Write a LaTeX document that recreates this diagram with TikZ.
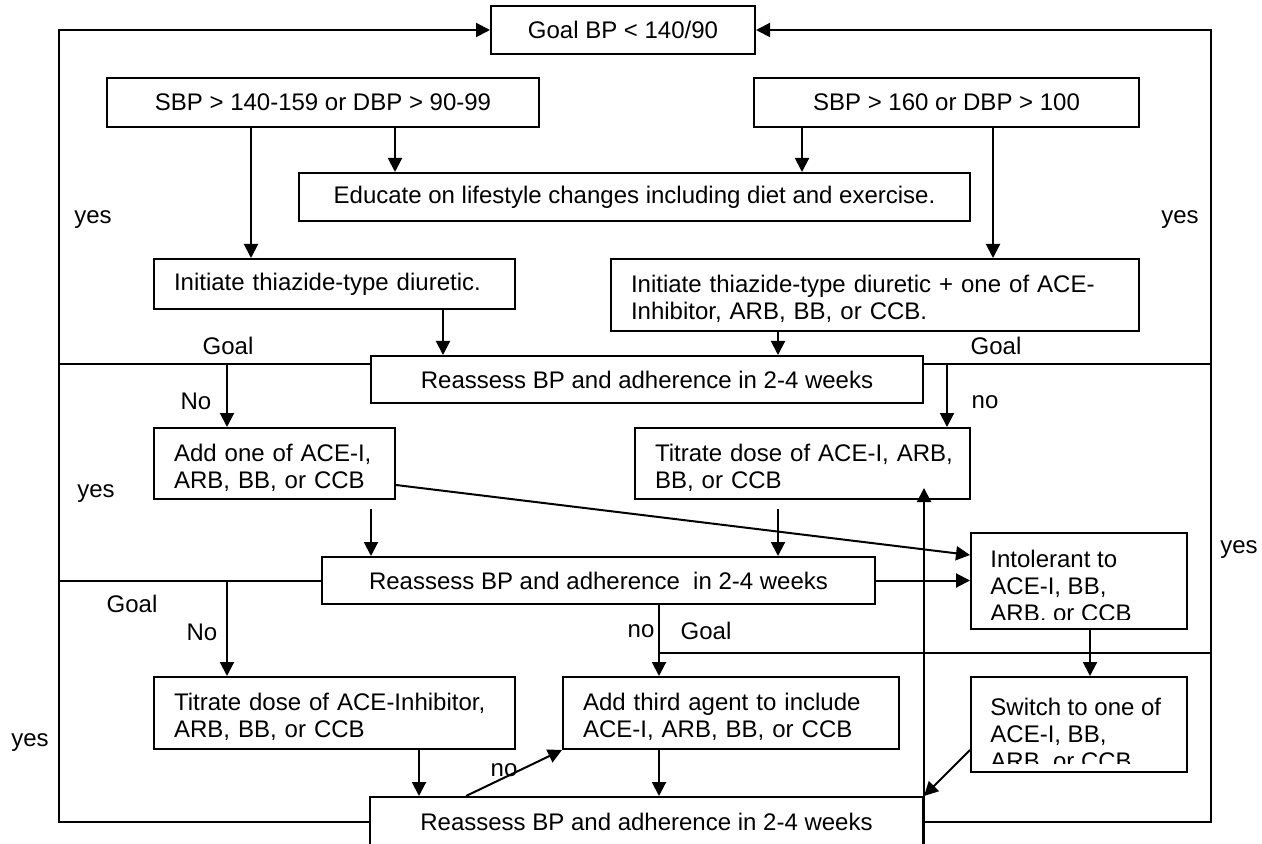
\documentclass[tikz,border=0pt]{standalone}
\usepackage{fontspec}
\setmainfont{Liberation Sans}
\usepackage{tikz}
\usetikzlibrary{arrows.meta,positioning}

\begin{document}
\begin{tikzpicture}[
    x=0.5pt, y=-0.5pt,
    font=\fontsize{12}{13.5}\selectfont,
    box/.style={draw, line width=1pt, inner xsep=10pt, inner ysep=0pt, align=center},
    lbox/.style={box, align=left, text width=#1},
    twoline/.style={execute at begin node={\rule{0pt}{12.8pt}}},
    note/.style={inner sep=0pt, align=left},
    lbl/.style={inner sep=0pt},
    link/.style={line width=1pt},
    arr/.style={-{Triangle[length=7pt,width=7pt]}, line width=1pt}
]
\useasboundingbox (0,0) rectangle (1262,844);
\clip (0,0) rectangle (1262,844);

\node[box, minimum width=132pt, minimum height=24pt] (goal) at (623,30) {Goal BP < 140/90};
\node[box, minimum width=216pt, minimum height=24.5pt] (sbpA) at (323,102.5) {SBP > 140-159 or DBP > 90-99};
\node[box, minimum width=192.5pt, minimum height=24.5pt] (sbpB) at (946.5,102.5) {SBP > 160 or DBP > 100};
\node[box, minimum width=335.5pt, minimum height=24pt] (educate) at (634.5,197) {Educate on lifestyle changes including diet and exercise.};
\node[lbox=160.5pt, minimum height=25pt] (thiazide) at (334.5,284) {Initiate thiazide-type diuretic.};
\node[lbox=244pt, twoline, minimum height=36pt] (combo) at (875,295) {Initiate thiazide-type diuretic + one of ACE-\\Inhibitor, ARB, BB, or CCB.};
\node[box, minimum width=276pt, minimum height=23.5pt] (reassessA) at (647,379.5) {Reassess BP and adherence in 2-4 weeks};
\node[lbox=100.5pt, twoline, minimum height=35.5pt] (addOne) at (274.5,463.5) {Add one of ACE-I,\\ARB, BB, or CCB};
\node[lbox=147.5pt, twoline, minimum height=35.5pt] (titrateA) at (802.5,463.5) {\mbox{Titrate dose of ACE-I, ARB,}\\BB, or CCB};
\node[box, minimum width=276.5pt, minimum height=23.5pt] (reassessB) at (598.5,580.5) {Reassess BP and adherence~ in 2-4 weeks};
\node[box, minimum width=108pt, minimum height=48pt] (intolerant) at (1079,581) {};
\node[lbox=160.5pt, twoline, minimum height=36pt] (titrateB) at (334.5,713) {Titrate dose of ACE-Inhibitor,\\ARB, BB, or CCB};
\node[lbox=148pt, twoline, minimum height=36pt] (third) at (731,713) {Add third agent to include\\ACE-I, ARB, BB, or CCB};
\node[box, minimum width=108pt, minimum height=47.5pt] (switch) at (1079,724.5) {};
\node[box, minimum width=276.5pt, minimum height=24.5pt] (reassessC) at (646.5,821.5) {Reassess BP and adherence in 2-4 weeks};

\begin{scope}
\clip (intolerant.north west) rectangle ([yshift=5.5pt]intolerant.south east);
\node[note, anchor=base west] (intolerantText) at (990,621) {Intolerant to\\ACE-I, BB,\\ARB, or CCB};
\end{scope}
\begin{scope}
\clip (switch.north west) rectangle ([yshift=5pt]switch.south east);
\node[note, anchor=base west] (switchText) at (990,769) {Switch to one of\\ACE-I, BB,\\ARB, or CCB};
\end{scope}

\coordinate (L) at (59,0);
\coordinate (R) at (1211,0);
\coordinate (xA) at (251,0);
\coordinate (xB) at (395,0);
\coordinate (xC) at (802,0);
\coordinate (xD) at (993,0);
\coordinate (xE) at (443,0);
\coordinate (xF) at (778,0);
\coordinate (xG) at (371,0);
\coordinate (xH) at (419,0);
\coordinate (xI) at (1090,0);
\coordinate (xJ) at (227,0);
\coordinate (xK) at (947,0);
\coordinate (gA) at ([yshift=-4.5pt]reassessA.north west);
\coordinate (gB) at ([yshift=-4.5pt]reassessA.north east);
\coordinate (gD) at (659,653);

\draw[arr] (reassessC.west) -- (reassessC.west -| L) |- (goal.west);
\draw[arr] (reassessC.east) -- (reassessC.east -| R) |- (goal.east);
\draw[arr] (xA |- sbpA.south) -- (xA |- thiazide.north);
\draw[arr] (xB |- sbpA.south) -- (xB |- educate.north);
\draw[arr] (xC |- sbpB.south) -- (xC |- educate.north);
\draw[arr] (xD |- sbpB.south) -- (xD |- combo.north);
\draw[arr] (xE |- thiazide.south) -- (xE |- reassessA.north);
\draw[arr] (xF |- combo.south) -- (xF |- reassessA.north);
\draw[link] (gA) -- (gA -| L);
\draw[link] (gB) -- (gB -| R);
\draw[arr] (xJ |- gA) -- (xJ |- addOne.north);
\draw[arr] (xK |- gB) -- (xK |- titrateA.north);
\draw[arr, shorten <=4.5pt] (xG |- addOne.south) -- (xG |- reassessB.north);
\draw[arr, shorten <=4.5pt] (xF |- titrateA.south) -- (xF |- reassessB.north);
\draw[arr] ([yshift=-10.75pt]addOne.east) -- ([yshift=13pt]intolerant.west);
\draw[arr] (reassessB.east) -- (reassessB.east -| intolerant.west);
\draw[link] (reassessB.west) -- (reassessB.west -| L);
\draw[arr] (xJ |- reassessB.west) -- (xJ |- titrateB.north);
\draw[arr] (gD |- reassessB.south) -- (gD |- third.north);
\draw[link] (gD) -- (gD -| R);
\draw[arr] (xI |- intolerant.south) -- (xI |- switch.north);
\draw[arr] (xH |- titrateB.south) -- (xH |- reassessC.north);
\draw[arr] (gD |- third.south) -- (gD |- reassessC.north);
\draw[arr] ([yshift=-12.75pt]switch.west) -- (reassessC.north east);
\draw[arr, shorten >=-6pt] (reassessC.south east) -- (reassessC.south east |- titrateA.south);
\draw[arr] ([xshift=48.5pt]reassessC.north west) -- (third.south west);

\node[lbl] (yesA) at (93,220) {yes};
\node[lbl] (yesB) at (1180,220) {yes};
\node[lbl] (goalA) at (228,346) {Goal};
\node[lbl] (goalB) at (996,346) {Goal};
\node[lbl] (noA) at (196,401) {No};
\node[lbl] (noB) at (985,402) {no};
\node[lbl] (yesC) at (96,494) {yes};
\node[lbl] (yesD) at (1239,550) {yes};
\node[lbl] (goalC) at (132,604) {Goal};
\node[lbl] (noC) at (202,632) {No};
\node[lbl] (noD) at (641,631) {no};
\node[lbl] (goalD) at (706,631) {Goal};
\node[lbl] (yesE) at (30,743) {yes};
\node[lbl] (noE) at (504,770) {no};
\end{tikzpicture}
\end{document}
